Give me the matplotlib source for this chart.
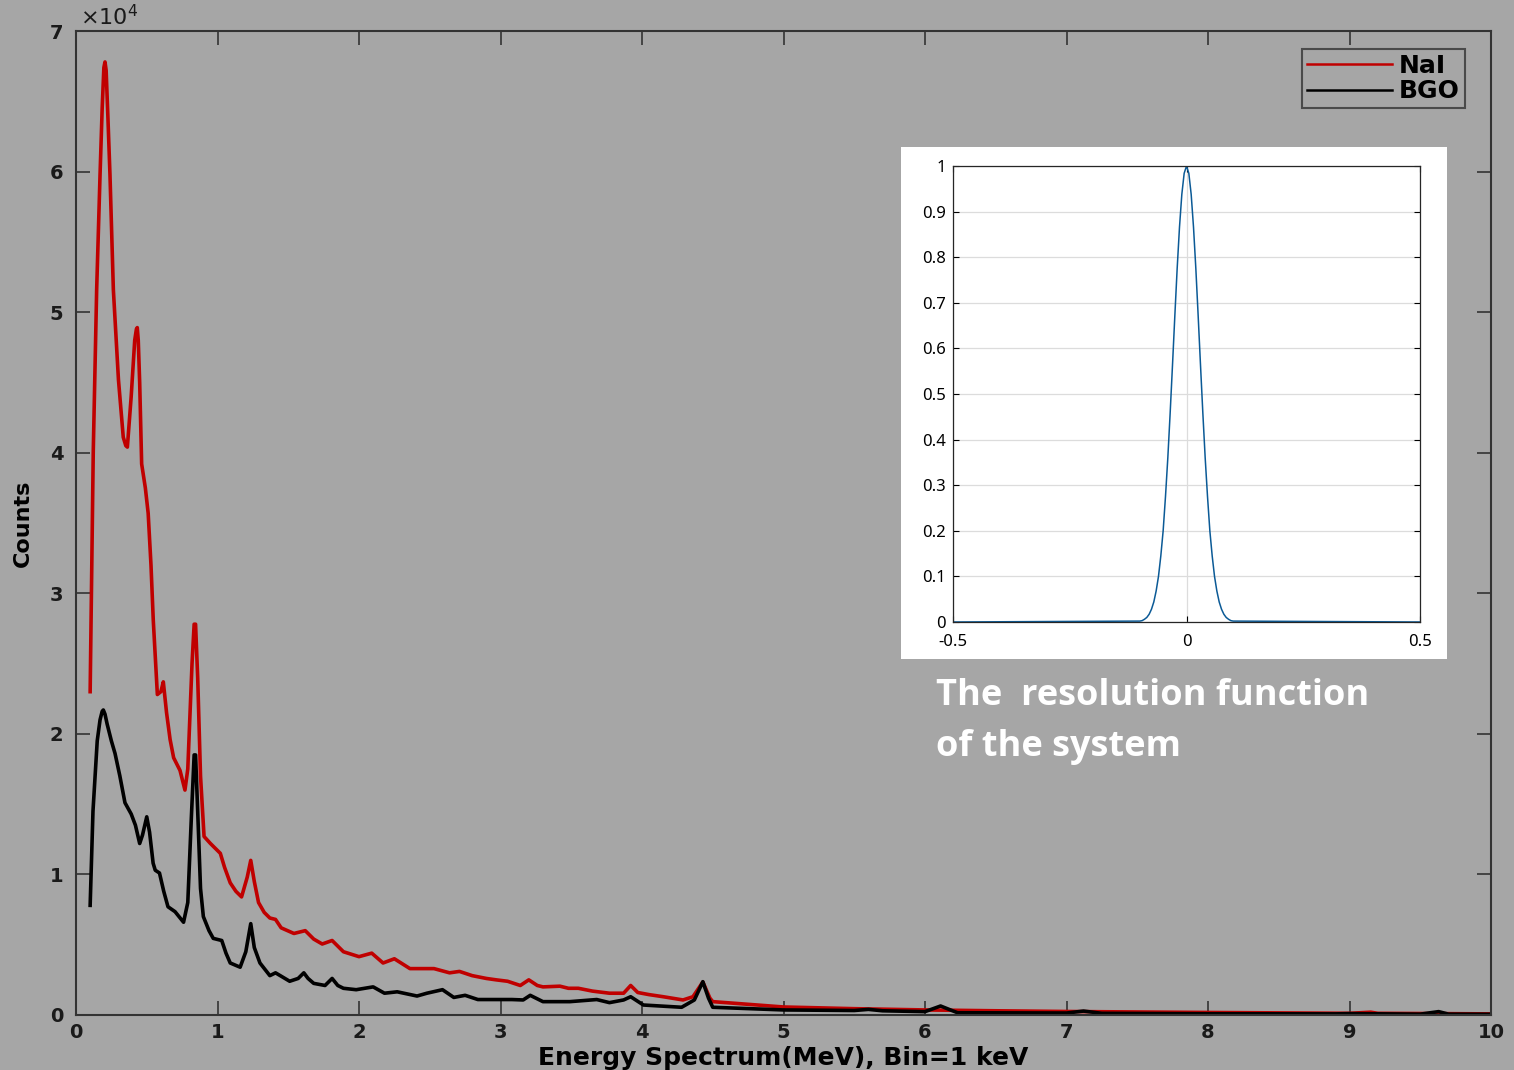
import matplotlib
matplotlib.use("Agg")
import matplotlib.pyplot as plt
from matplotlib.patches import Rectangle

# spectrum data, counts in units of 1e4
nai_e = [0.10, 0.122, 0.146, 0.17, 0.185, 0.197, 0.205, 0.213, 0.225, 0.24, 0.264, 0.30, 0.334, 0.352, 0.363,
         0.39, 0.415, 0.427, 0.433, 0.44, 0.45, 0.464, 0.49, 0.51, 0.53, 0.546, 0.575, 0.60, 0.617,
         0.64, 0.665, 0.69, 0.735, 0.77, 0.79, 0.82, 0.835, 0.845, 0.86, 0.88, 0.905, 0.95,
         1.02, 1.05, 1.09, 1.13, 1.17, 1.21, 1.235, 1.26, 1.29, 1.33, 1.37, 1.41, 1.45,
         1.54, 1.62, 1.68, 1.74, 1.81, 1.89, 2.00, 2.09, 2.17, 2.25, 2.36, 2.45, 2.53,
         2.64, 2.71, 2.80, 2.90, 2.97, 3.05, 3.14, 3.20, 3.26, 3.30, 3.42, 3.48, 3.55,
         3.65, 3.77, 3.87, 3.92, 3.97, 4.05, 4.15, 4.29, 4.36, 4.43, 4.48, 4.50, 5.0,
         5.5, 6.0, 6.5, 7.0, 8.0, 9.0, 9.15, 9.2, 10.0]
nai_counts = [2.30, 4.01, 5.16, 5.98, 6.45, 6.74, 6.78, 6.72, 6.40, 5.98, 5.16, 4.52, 4.11, 4.05, 4.04,
              4.40, 4.80, 4.88, 4.89, 4.80, 4.50, 3.92, 3.75, 3.57, 3.20, 2.81, 2.28, 2.30, 2.37,
              2.15, 1.96, 1.83, 1.74, 1.60, 1.75, 2.50, 2.78, 2.78, 2.40, 1.70, 1.27, 1.22,
              1.15, 1.05, 0.94, 0.88, 0.84, 0.98, 1.10, 0.95, 0.80, 0.73, 0.69, 0.68, 0.62,
              0.58, 0.60, 0.54, 0.505, 0.53, 0.45, 0.415, 0.44, 0.37, 0.40, 0.33, 0.33, 0.33,
              0.30, 0.31, 0.28, 0.26, 0.25, 0.24, 0.21, 0.25, 0.21, 0.20, 0.205, 0.19, 0.19,
              0.17, 0.155, 0.155, 0.21, 0.16, 0.145, 0.13, 0.107, 0.13, 0.235, 0.12, 0.095, 0.057,
              0.045, 0.036, 0.03, 0.025, 0.018, 0.012, 0.02, 0.012, 0.008]

bgo_e = [0.10, 0.12, 0.15, 0.17, 0.185, 0.193, 0.205, 0.22, 0.25, 0.276, 0.31, 0.346, 0.39, 0.42, 0.45,
         0.47, 0.50, 0.52, 0.545, 0.56, 0.59, 0.62, 0.65, 0.70, 0.76, 0.79, 0.815, 0.835, 0.845,
         0.86, 0.88, 0.90, 0.94, 0.97, 1.03, 1.06, 1.09, 1.16, 1.20, 1.235, 1.26, 1.30,
         1.37, 1.41, 1.51, 1.57, 1.61, 1.64, 1.68, 1.76, 1.81, 1.85, 1.89, 1.98, 2.10,
         2.18, 2.27, 2.41, 2.48, 2.59, 2.67, 2.75, 2.84, 3.08, 3.16, 3.21, 3.30, 3.49,
         3.68, 3.77, 3.87, 3.92, 4.01, 4.28, 4.37, 4.43, 4.47, 4.50, 5.0, 5.5, 5.6, 5.7,
         6.0, 6.11, 6.23, 7.0, 7.12, 7.25, 8.0, 8.9, 9.0, 9.5, 9.63, 9.7, 10.0]
bgo_counts = [0.78, 1.45, 1.95, 2.10, 2.16, 2.17, 2.14, 2.07, 1.95, 1.86, 1.70, 1.51, 1.43, 1.35, 1.22,
              1.28, 1.41, 1.30, 1.08, 1.03, 1.01, 0.88, 0.77, 0.735, 0.66, 0.80, 1.40, 1.85, 1.85,
              1.45, 0.90, 0.70, 0.60, 0.545, 0.53, 0.44, 0.37, 0.34, 0.45, 0.65, 0.48, 0.37,
              0.28, 0.30, 0.24, 0.26, 0.30, 0.26, 0.225, 0.21, 0.26, 0.21, 0.19, 0.18, 0.20,
              0.155, 0.165, 0.135, 0.155, 0.18, 0.125, 0.14, 0.11, 0.11, 0.107, 0.14, 0.095, 0.095,
              0.11, 0.088, 0.107, 0.13, 0.071, 0.055, 0.107, 0.237, 0.12, 0.055, 0.036, 0.032, 0.04, 0.03,
              0.024, 0.064, 0.016, 0.014, 0.028, 0.012, 0.009, 0.008, 0.01, 0.006, 0.024, 0.006, 0.005]

# resolution function (inset)
res_x = [-0.5, -0.1, -0.095, -0.09, -0.085, -0.08, -0.075, -0.07, -0.065, -0.06, -0.055,
         -0.05, -0.045, -0.04, -0.035, -0.03, -0.025, -0.02, -0.015, -0.01, -0.005, 0.0,
         0.005, 0.01, 0.015, 0.02, 0.025, 0.03, 0.035, 0.04, 0.045, 0.05, 0.055, 0.06,
         0.065, 0.07, 0.075, 0.08, 0.085, 0.09, 0.095, 0.1, 0.5]
res_y = [0.0, 0.002, 0.003, 0.006, 0.010, 0.017, 0.028, 0.044, 0.068, 0.10, 0.145,
         0.20, 0.275, 0.36, 0.458, 0.563, 0.671, 0.775, 0.866, 0.938, 0.984, 1.0,
         0.984, 0.938, 0.866, 0.775, 0.671, 0.563, 0.458, 0.36, 0.275, 0.20, 0.145, 0.10,
         0.068, 0.044, 0.028, 0.017, 0.010, 0.006, 0.003, 0.002, 0.0]

bg = '#a6a6a6'
W, H = 1514, 1070
fig = plt.figure(figsize=(W / 100, H / 100), dpi=100, facecolor=bg)

ax = fig.add_axes([76 / W, 1 - 1015 / H, 1415 / W, 984 / H])
ax.set_facecolor(bg)
ax.plot(nai_e, nai_counts, color='#c00000', lw=2.6, label='NaI', solid_joinstyle='round')
ax.plot(bgo_e, bgo_counts, color='black', lw=2.6, label='BGO', solid_joinstyle='round')
ax.set_xlim(0, 10)
ax.set_ylim(0, 7)
ax.set_xticks(range(0, 11))
ax.set_yticks(range(0, 8))
ax.tick_params(direction='in', length=10, width=1.2, color='#333333', top=True, right=True,
               labelsize=14, labelcolor='#1a1a1a')
for lab in ax.get_xticklabels() + ax.get_yticklabels():
    lab.set_fontweight('semibold')
ax.tick_params(axis='y', pad=9)
ax.tick_params(axis='x', pad=6)
for s in ax.spines.values():
    s.set_color('#333333')
    s.set_linewidth(1.5)
ax.text(0.003, 1.002, r'$\times10^{4}$', transform=ax.transAxes, fontsize=16,
        color='#1a1a1a', va='bottom', ha='left')
ax.set_xlabel('Energy Spectrum(MeV), Bin=1 keV', fontsize=18, fontweight='bold', labelpad=3)
ax.set_ylabel('Counts', fontsize=16, fontweight='bold', labelpad=12)

leg = ax.legend(loc='upper right', bbox_to_anchor=((1465 - 76) / 1415, (1015 - 49) / 984),
                borderaxespad=0, fancybox=False, facecolor='none', edgecolor='#333333',
                prop={'weight': 'bold', 'size': 18}, handlelength=3.4, labelspacing=0.05,
                handletextpad=0.3, borderpad=0.2)
leg.get_frame().set_linewidth(1.5)
for h in leg.get_lines():
    h.set_linewidth(1.8)

# white box behind inset
fig.patches.append(Rectangle((901 / W, 1 - 659 / H), 546 / W, 512 / H,
                             transform=fig.transFigure, facecolor='white',
                             edgecolor='none', zorder=2))

ins = fig.add_axes([953 / W, 1 - 622 / H, 467 / W, 456 / H], zorder=3)
ins.set_facecolor('white')
ins.plot(res_x, res_y, color='#0b5a96', lw=1.1)
ins.set_xlim(-0.5, 0.5)
ins.set_ylim(0, 1)
ins.set_xticks([-0.5, 0, 0.5])
ins.set_xticklabels(['-0.5', '0', '0.5'])
ins.set_yticks([i / 10 for i in range(11)])
ins.set_yticklabels(['0', '0.1', '0.2', '0.3', '0.4', '0.5', '0.6', '0.7', '0.8', '0.9', '1'])
ins.grid(True, color='#dcdcdc', lw=0.9)
ins.set_axisbelow(True)
ins.tick_params(direction='in', length=4, width=0.8, top=True, right=True,
                labelsize=12, pad=5)
ins.tick_params(axis='x', pad=9)
for lab in ins.get_xticklabels() + ins.get_yticklabels():
    lab.set_family('Noto Sans')
for s in ins.spines.values():
    s.set_color('#262626')
    s.set_linewidth(0.9)

fig.text(936 / W, 1 - 705 / H, 'The  resolution function', color='white', fontsize=26,
         family='Open Sans', fontweight='bold', va='baseline', ha='left')
fig.text(936 / W, 1 - 756 / H, 'of the system', color='white', fontsize=26,
         family='Open Sans', fontweight='bold', va='baseline', ha='left')

fig.savefig('out.png', dpi=100, facecolor=bg)
